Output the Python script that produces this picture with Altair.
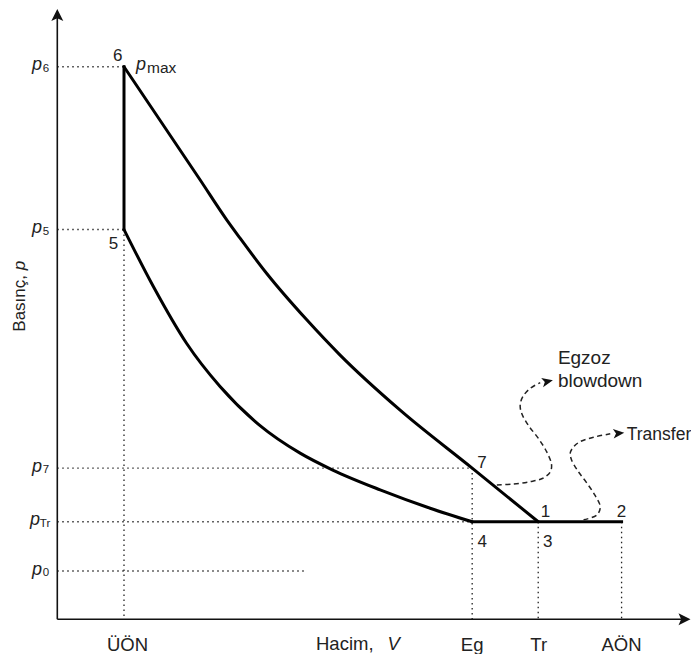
import altair as alt
import pandas as pd

# ---------------- data (V in units of V_ÜÖN, p in units of p0) ----------------
V_UON, V_EG, V_TR, V_AON = 1.0, 6.22, 7.21, 8.46
P6, P5, P7, PTR, P0 = 11.44, 8.07, 3.13, 2.02, 1.0
P0_LINE_END = 3.71

exp_V = [1.0, 2.14, 2.54, 2.74, 3.14, 3.74, 4.24, 5.14, 6.22, 7.21]
exp_p = [11.44, 9.10, 8.27, 7.89, 7.16, 6.20, 5.47, 4.33, 3.13, 2.02]

comp_V = [1.0, 1.44, 1.94, 2.44, 3.04, 3.64, 4.13, 4.84, 5.59, 6.22]
comp_p = [8.07, 6.89, 5.71, 4.82, 4.01, 3.44, 3.09, 2.68, 2.30, 2.02]

blow_V = [6.59, 6.83, 7.09, 7.28, 7.39, 7.41, 7.34, 7.21, 7.06, 6.96, 6.94, 6.98, 7.09, 7.24]
blow_p = [2.78, 2.80, 2.85, 2.92, 3.05, 3.20, 3.46, 3.75, 4.02, 4.27, 4.44, 4.61, 4.78, 4.90]
blow_tip = (7.43, 4.95)

trans_V = [7.89, 8.09, 8.14, 8.06, 7.94, 7.81, 7.71, 7.69, 7.74, 7.84, 8.04, 8.29]
trans_p = [2.06, 2.16, 2.33, 2.57, 2.82, 3.06, 3.30, 3.44, 3.57, 3.68, 3.77, 3.84]
trans_tip = (8.50, 3.86)

x_labels = ["ÜÖN", "Eg", "Tr", "AÖN"]
x_label_V = [V_UON, V_EG, V_TR, V_AON]
p_subs = ["6", "5", "7", "Tr", "0"]
p_vals = [P6, P5, P7, PTR, P0]

# ---------------- layout ----------------
W, H = 683, 646
X0, XU = 49.3, 66.7   # plot px of V=0, px per V unit
Y0, YU = 611.3, 48.3  # plot px of p=0, px per p unit
FONT = "Liberation Sans"
INK = "#111111"
TXT = "#222222"

xs = alt.Scale(domain=[-X0 / XU, (W - X0) / XU], nice=False, zero=False)
ys = alt.Scale(domain=[(Y0 - H) / YU, Y0 / YU], nice=False, zero=False)
X = alt.X("V:Q", scale=xs, axis=None)
Y = alt.Y("p:Q", scale=ys, axis=None)

V_TIP = (W - 0.5 - X0) / XU
P_TIP = (Y0 - 1.0) / YU

layers = []

# dotted guides
guides = pd.DataFrame({
    "V":  [0, 0, 0, 0, 0, V_UON, V_EG, V_TR, V_AON],
    "V2": [V_UON, V_UON, V_EG, V_EG, P0_LINE_END, V_UON, V_EG, V_TR, V_AON],
    "p":  [P6, P5, P7, PTR, P0, P5, P7, PTR, PTR],
    "p2": [P6, P5, P7, PTR, P0, 0, 0, 0, 0],
})
layers.append(
    alt.Chart(guides).mark_rule(color="#222", strokeWidth=1.3, strokeDash=[1.4, 3.6])
    .encode(x=X, x2="V2:Q", y=Y, y2="p2:Q")
)

# axes
axes = pd.DataFrame({
    "V": [0, 0], "V2": [V_TIP - 9 / XU, 0],
    "p": [0, 0], "p2": [0, P_TIP - 9 / YU],
})
layers.append(
    alt.Chart(axes).mark_rule(color=INK, strokeWidth=1.6)
    .encode(x=X, x2="V2:Q", y=Y, y2="p2:Q")
)
AX_SHAPE = "M0,0 L-1,-0.5 L-0.78,0 L-1,0.5 Z"
layers.append(
    alt.Chart(pd.DataFrame({"V": [V_TIP], "p": [0]}))
    .mark_point(shape=AX_SHAPE, filled=True, opacity=1, size=576, color=INK, strokeWidth=0, angle=0)
    .encode(x=X, y=Y)
)
layers.append(
    alt.Chart(pd.DataFrame({"V": [0], "p": [P_TIP]}))
    .mark_point(shape=AX_SHAPE, filled=True, opacity=1, size=576, color=INK, strokeWidth=0, angle=270)
    .encode(x=X, y=Y)
)

# cycle: straight parts
straight = pd.DataFrame({
    "V": [V_UON, V_EG], "V2": [V_UON, V_AON],
    "p": [P5, PTR], "p2": [P6, PTR],
})
layers.append(
    alt.Chart(straight).mark_rule(color="#000", strokeWidth=3, strokeCap="square")
    .encode(x=X, x2="V2:Q", y=Y, y2="p2:Q")
)
# cycle: curves
curves = pd.DataFrame({
    "V": exp_V + comp_V,
    "p": exp_p + comp_p,
    "k": ["exp"] * len(exp_V) + ["comp"] * len(comp_V),
})
layers.append(
    alt.Chart(curves).mark_line(color="#000", strokeWidth=3, interpolate="monotone", strokeCap="round")
    .encode(x=X, y=Y, detail="k:N")
)

# dashed arrows
dash = pd.DataFrame({
    "V": blow_V + trans_V,
    "p": blow_p + trans_p,
    "k": ["b"] * len(blow_V) + ["t"] * len(trans_V),
    "i": list(range(len(blow_V))) + list(range(len(trans_V))),
})
layers.append(
    alt.Chart(dash).mark_line(color="#222", strokeWidth=1.5, strokeDash=[5, 3.5], interpolate="catmull-rom")
    .encode(x=X, y=Y, detail="k:N", order=alt.Order("i:Q"))
)
AR_SHAPE = "M0,0 L-1,-0.43 L-0.75,0 L-1,0.43 Z"
for tip, ang in [(blow_tip, 348), (trans_tip, 355)]:
    layers.append(
        alt.Chart(pd.DataFrame({"V": [tip[0]], "p": [tip[1]]}))
        .mark_point(shape=AR_SHAPE, filled=True, opacity=1, size=484, color="#111", strokeWidth=0, angle=ang)
        .encode(x=X, y=Y)
    )


def txt(V, p, s, dx=0.0, dy=0.0, size=18, align="center", italic=False):
    return (
        alt.Chart(pd.DataFrame({"V": [V], "p": [p], "t": [s]}))
        .mark_text(dx=dx, dy=dy, fontSize=size, align=align, baseline="alphabetic",
                   font=FONT, fontStyle="italic" if italic else "normal", color=TXT)
        .encode(x=X, y=Y, text="t:N")
    )


def ptxt(px, py, s, size=18, align="left", italic=False, angle=0):
    return (
        alt.Chart(pd.DataFrame({"t": [s]}))
        .mark_text(fontSize=size, align=align, baseline="alphabetic", font=FONT,
                   fontStyle="italic" if italic else "normal", color=TXT, angle=angle)
        .encode(x=alt.value(px), y=alt.value(py), text="t:N")
    )


# x labels
x_dx = [3.5, 0, 0.5, 0]
for lab, v, d in zip(x_labels, x_label_V, x_dx):
    layers.append(txt(v, 0, lab, dx=d, dy=31.2, size=18.5))

# y labels p_i
for sub, pv in zip(p_subs, p_vals):
    if sub == "Tr":
        p_dx, s_dx = -17.3, -17.5
    else:
        p_dx, s_dx = -15.3, -14.5
    layers.append(txt(0, pv, "p", dx=p_dx, dy=3.5, size=18, align="right", italic=True))
    layers.append(txt(0, pv, sub, dx=s_dx, dy=5.0, size=11.5, align="left"))

# p_max
layers.append(txt(V_UON, P6, "p", dx=12, dy=3.5, size=18, align="left", italic=True))
layers.append(txt(V_UON, P6, "max", dx=23, dy=6.0, size=15.5, align="left"))

# state point numbers
pts = [
    ("6", V_UON, P6, -6.3, -5.7),
    ("5", V_UON, P5, -10.5, 19.7),
    ("7", V_EG, P7, 9.7, 0.0),
    ("1", V_TR, PTR, 7.3, -4.8),
    ("2", V_AON, PTR, 0.0, -4.8),
    ("3", V_TR, PTR, 9.5, 25.2),
    ("4", V_EG, PTR, 10.0, 25.2),
]
for s, v, pv, dx, dy in pts:
    layers.append(txt(v, pv, s, dx=dx, dy=dy, size=17))

# arrow annotations
layers.append(txt(blow_tip[0], blow_tip[1], "Egzoz", dx=5, dy=-16.7, size=19, align="left"))
layers.append(txt(blow_tip[0], blow_tip[1], "blowdown", dx=5, dy=6.7, size=19, align="left"))
layers.append(txt(trans_tip[0], trans_tip[1], "Transfer", dx=2.5, dy=7.0, size=17.5, align="left"))

# axis titles
layers.append(ptxt(308, 641.5, "Hacim,", size=18.5))
layers.append(ptxt(379.5, 641.5, "V", size=18.5, italic=True))
layers.append(ptxt(17, 323.7, "Basınç,", size=17, angle=270))
layers.append(ptxt(17, 262.3, "p", size=17, italic=True, angle=270))

chart = (
    alt.layer(*layers)
    .properties(width=W, height=H, padding=0, autosize=alt.AutoSizeParams(type="none"),
                background="white")
    .configure_view(stroke=None)
)

chart.save("out.html", embed_options={"renderer": "svg", "actions": False})
